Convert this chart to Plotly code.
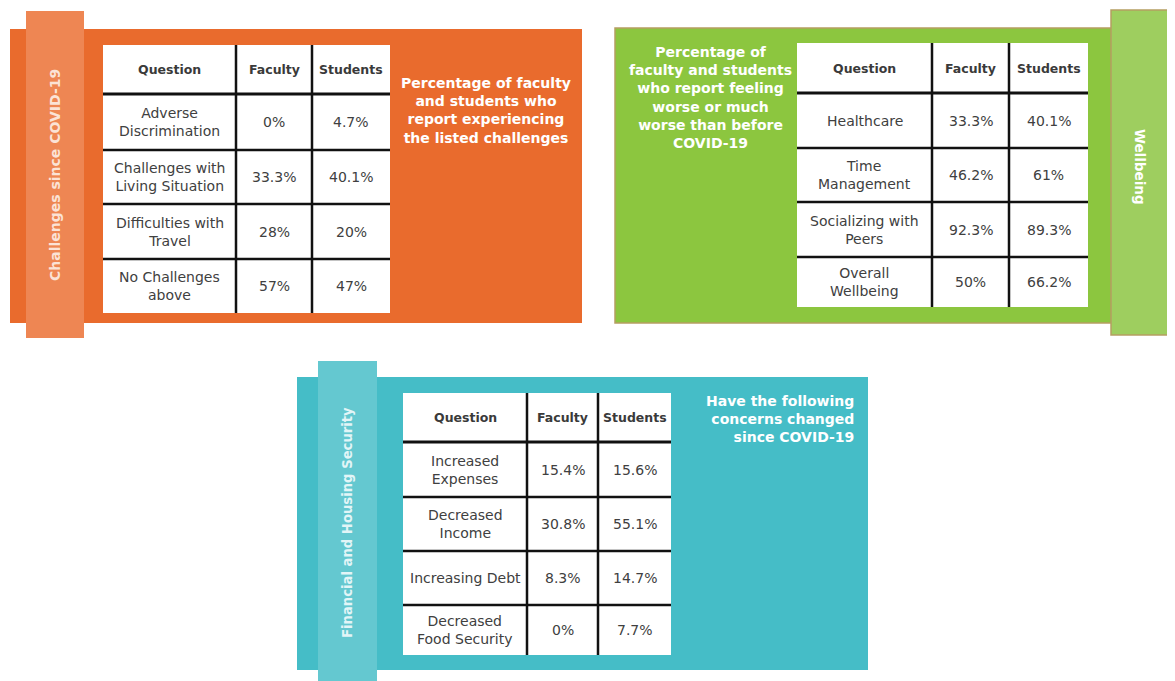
import plotly.graph_objects as go

# ---------------- data ----------------
headers = ["Question", "Faculty", "Students"]

t1_questions = ["Adverse<br>Discrimination", "Challenges with<br>Living Situation",
                "Difficulties with<br>Travel", "No Challenges<br>above"]
t1_faculty = ["0%", "33.3%", "28%", "57%"]
t1_students = ["4.7%", "40.1%", "20%", "47%"]

t2_questions = ["Healthcare", "Time<br>Management", "Socializing with<br>Peers",
                "Overall<br>Wellbeing"]
t2_faculty = ["33.3%", "46.2%", "92.3%", "50%"]
t2_students = ["40.1%", "61%", "89.3%", "66.2%"]

t3_questions = ["Increased<br>Expenses", "Decreased<br>Income", "Increasing Debt",
                "Decreased<br>Food Security"]
t3_faculty = ["15.4%", "30.8%", "8.3%", "0%"]
t3_students = ["15.6%", "55.1%", "14.7%", "7.7%"]

side_titles = ["Challenges since COVID-19", "Wellbeing", "Financial and Housing Security"]
notes = ["Percentage of faculty<br>and students who<br>report experiencing<br>the listed challenges",
         "Percentage of<br>faculty and students<br>who report feeling<br>worse or much<br>worse than before<br>COVID-19",
         "Have the following<br>concerns changed<br>since COVID-19"]

# ---------------- figure ----------------
W, H = 1175, 681
OFF = 8  # page body margin
fig = go.Figure()
fig.add_trace(go.Scatter(x=[OFF, W], y=[OFF, H], mode="markers",
                         marker=dict(opacity=0), hoverinfo="skip", showlegend=False))

shapes = []
annots = []
FONT = "DejaVu Sans, Verdana, sans-serif"


def rect(x0, y0, x1, y1, fill, line=None, lw=0):
    shapes.append(dict(type="rect", xref="x", yref="y", x0=x0, y0=y0, x1=x1, y1=y1,
                       fillcolor=fill, line=dict(color=line or fill, width=lw), layer="below"))


def line(x0, y0, x1, y1, w, color="#111111"):
    shapes.append(dict(type="line", xref="x", yref="y", x0=x0, y0=y0, x1=x1, y1=y1,
                       line=dict(color=color, width=w), layer="above"))


def text(x, y, s, size, color="#333333", bold=False, angle=0, xanchor="center",
         yanchor="middle", align="center"):
    if bold:
        s = "<b>" + s.replace("<br>", "</b><br><b>") + "</b>"
    annots.append(dict(x=x, y=y, xref="x", yref="y", text=s, showarrow=False,
                       textangle=angle, xanchor=xanchor, yanchor=yanchor, align=align,
                       font=dict(family=FONT, size=size, color=color)))


def table(colx, rowy, questions, fac, stu):
    rect(colx[0], rowy[0], colx[-1], rowy[-1], "white")
    for cx in colx[1:-1]:
        line(cx, rowy[0], cx, rowy[-1], 2.5)
    for i, ry in enumerate(rowy[1:-1]):
        line(colx[0], ry, colx[-1], ry, 3 if i == 0 else 2.5)
    for c in range(3):
        cxm = (colx[c] + colx[c + 1]) / 2
        text(cxm, (rowy[0] + rowy[1]) / 2, headers[c], 12.5, color="#3a3a3a", bold=True)
    for r in range(len(questions)):
        ym = (rowy[r + 1] + rowy[r + 2]) / 2
        vals = [questions[r], fac[r], stu[r]]
        for c in range(3):
            cxm = (colx[c] + colx[c + 1]) / 2
            text(cxm, ym, vals[c], 14, color="#404040")


# Panel 1 (orange)
rect(10, 29, 582, 323, "#E96B2D")
rect(26, 11, 84, 338, "#EE8653")
text(55, 175, side_titles[0], 14, color="#fbe3d6", bold=True, angle=-90)
table([103, 236, 312, 390], [45, 94, 150, 204, 259, 313], t1_questions, t1_faculty, t1_students)
text(486, 73, notes[0], 14, color="white", bold=True, yanchor="top")

# Panel 2 (green)
rect(615, 28, 1185, 323, "#8CC63F", line="#B59E62", lw=1.5)
rect(1111, 10, 1170, 335, "#9ECE5F", line="#B59E62", lw=1.5)
text(1140, 167, side_titles[1], 13.5, color="white", bold=True, angle=90)
table([797, 932, 1009, 1088], [43, 93, 148, 202, 257, 307], t2_questions, t2_faculty, t2_students)
text(710, 42, notes[1], 14, color="white", bold=True, yanchor="top")

# Panel 3 (teal)
rect(297, 377, 868, 670, "#45BDC7")
rect(318, 361, 377, 685, "#64C8D0")
text(347, 523, side_titles[2], 13.2, color="#e2f5f7", bold=True, angle=-90)
table([403, 527, 598, 671], [393, 442, 497, 551, 605, 655], t3_questions, t3_faculty, t3_students)
text(856, 391, notes[2], 14, color="white", bold=True, yanchor="top", xanchor="right", align="right")

fig.update_layout(
    width=W - OFF, height=H - OFF, margin=dict(l=0, r=0, t=0, b=0),
    paper_bgcolor="white", plot_bgcolor="white",
    xaxis=dict(range=[OFF, W], visible=False, fixedrange=True),
    yaxis=dict(range=[H, OFF], visible=False, fixedrange=True),
    shapes=shapes, annotations=annots, showlegend=False,
)
fig.write_html("out.html", config={"displayModeBar": False})
